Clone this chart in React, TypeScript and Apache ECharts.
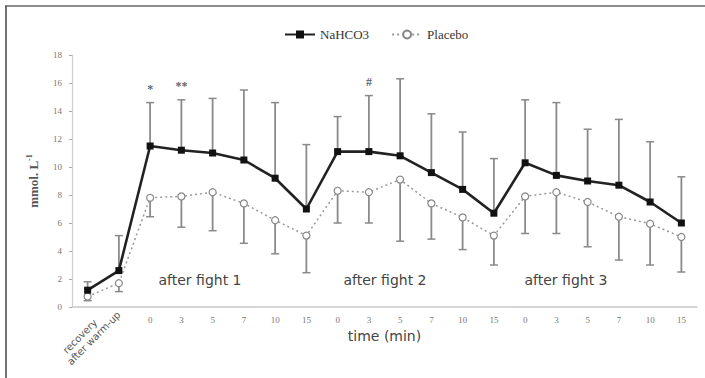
import React, { useEffect, useRef } from "react";
import * as echarts from "echarts";

const categories = ["recovery", "after warm-up", "0", "3", "5", "7", "10", "15", "0", "3", "5", "7", "10", "15", "0", "3", "5", "7", "10", "15"];
const nahMean = [1.2, 2.6, 11.5, 11.2, 11.0, 10.5, 9.2, 7.0, 11.1, 11.1, 10.8, 9.6, 8.4, 6.7, 10.3, 9.4, 9.0, 8.7, 7.5, 6.0];
const nahSD = [0.6, 2.5, 3.1, 3.6, 3.9, 5.0, 5.4, 4.6, 2.5, 4.0, 5.5, 4.2, 4.1, 3.9, 4.5, 5.2, 3.7, 4.7, 4.3, 3.3];
const plaMean = [0.75, 1.7, 7.8, 7.9, 8.2, 7.4, 6.2, 5.1, 8.3, 8.2, 9.1, 7.4, 6.4, 5.1, 7.9, 8.2, 7.5, 6.45, 5.95, 5.0];
const plaSD = [0.3, 0.6, 1.35, 2.2, 2.75, 2.85, 2.4, 2.65, 2.3, 2.2, 4.4, 2.55, 2.3, 2.1, 2.65, 2.95, 3.2, 3.1, 2.95, 2.5];
const annotations = ["", "", "*", "**", "", "", "", "", "", "#", "", "", "", "", "", "", "", "", "", ""];
const phaseLabels = ["after fight 1", "after fight 2", "after fight 3"];
const yTicks = { min: 0, max: 18, interval: 2 };

function errRender(dir: number) {
  return (params: any, api: any) => {
    const x = api.value(0);
    const m = api.value(1);
    const e = api.value(2);
    const p0 = api.coord([x, m]);
    const p1 = api.coord([x, m + dir * e]);
    const children: any[] = [
      { type: "line", shape: { x1: p0[0], y1: p0[1], x2: p1[0], y2: p1[1] }, style: { stroke: "#8a8a8a", lineWidth: 1.8 } },
      { type: "line", shape: { x1: p1[0] - 4, y1: p1[1], x2: p1[0] + 4, y2: p1[1] }, style: { stroke: "#8a8a8a", lineWidth: 1.5 } },
    ];
    const ann = annotations[x];
    if (dir > 0 && ann) {
      children.push({
        type: "text",
        style: { text: ann, x: p1[0], y: p1[1] - 14, align: "center", verticalAlign: "middle", fontFamily: "Liberation Serif", fontSize: 12, fontWeight: "bold", fill: "#666" },
      });
    }
    return { type: "group", children };
  };
}

export default function App() {
  const ref = useRef<HTMLDivElement>(null);
  useEffect(() => {
    const chart = echarts.init(ref.current!, undefined, { renderer: "svg" });
    const phaseX = [200, 385, 566];
    chart.setOption({
      animation: false,
      backgroundColor: "#ffffff",
      grid: { left: 72, right: 8, top: 55, bottom: 71 },
      legend: {
        left: 279,
        top: 23,
        itemWidth: 30,
        itemHeight: 10,
        itemGap: 22,
        textStyle: { fontFamily: "Liberation Serif", fontSize: 13, color: "#333" },
        data: ["NaHCO3", "Placebo"],
      },
      xAxis: [
        {
          type: "category",
          data: categories,
          boundaryGap: true,
          axisLine: { lineStyle: { color: "#c8c8c8", width: 1.5 } },
          axisTick: { show: false },
          axisLabel: {
            interval: 0,
            margin: 8,
            fontFamily: "Liberation Serif",
            fontSize: 9,
            color: "#777",
            formatter: (v: string, i: number) => (i < 2 ? "" : v),
          },
          name: "time (min)",
          nameLocation: "middle",
          nameGap: 19,
          nameTextStyle: { fontFamily: "DejaVu Sans", fontSize: 14, color: "#444" },
        },
        {
          type: "category",
          data: categories,
          position: "bottom",
          boundaryGap: true,
          axisLine: { show: false },
          axisTick: { show: false },
          axisLabel: {
            interval: 0,
            rotate: 45,
            margin: 6,
            fontFamily: "DejaVu Sans",
            fontSize: 10,
            color: "#555",
            formatter: (v: string, i: number) => (i === 0 ? "{r|" + v + "}" : i === 1 ? v : ""),
            rich: { r: { fontFamily: "DejaVu Sans", fontSize: 10, color: "#555", padding: [22, 0, 0, 0] } },
          },
        },
      ],
      yAxis: {
        type: "value",
        min: yTicks.min,
        max: yTicks.max,
        interval: yTicks.interval,
        splitLine: { show: false },
        axisLine: { show: true, lineStyle: { color: "#d0d0d0", width: 1.2 } },
        axisTick: { show: true, length: 3, lineStyle: { color: "#aaa" } },
        axisLabel: { fontFamily: "Liberation Serif", fontSize: 9, color: "#777", margin: 10 },
        name: "{a|mmol. L}{b|-1}",
        nameLocation: "middle",
        nameGap: 31,
        nameTextStyle: {
          rich: {
            a: { fontFamily: "Liberation Serif", fontSize: 13, fontWeight: "bold", color: "#555" },
            b: { fontFamily: "Liberation Serif", fontSize: 8, fontWeight: "bold", color: "#555", verticalAlign: "top", padding: [0, 0, 8, 0] },
          },
        },
      },
      graphic: [
        { type: "line", shape: { x1: 5, y1: 6, x2: 705, y2: 6 }, style: { stroke: "#8c8c8c", lineWidth: 2 } },
        { type: "line", shape: { x1: 6, y1: 6, x2: 6, y2: 378 }, style: { stroke: "#444", lineWidth: 1.5 } },
        ...phaseLabels.map((t, i) => ({
          type: "text",
          x: phaseX[i],
          y: 280,
          style: { text: t, align: "center", verticalAlign: "middle", fontFamily: "DejaVu Sans", fontSize: 14, fill: "#444" },
        })),
      ],
      series: [
        {
          type: "custom",
          name: "errNa",
          z: 1,
          renderItem: errRender(1),
          encode: { x: 0, y: 1 },
          data: nahMean.map((m, i) => [i, m, nahSD[i]]),
        },
        {
          type: "custom",
          name: "errPl",
          z: 1,
          renderItem: errRender(-1),
          encode: { x: 0, y: 1 },
          data: plaMean.map((m, i) => [i, m, plaSD[i]]),
        },
        {
          type: "line",
          name: "NaHCO3",
          z: 4,
          data: nahMean,
          symbol: "rect",
          symbolSize: 7,
          itemStyle: { color: "#111" },
          lineStyle: { color: "#222", width: 2.6 },
        },
        {
          type: "line",
          name: "Placebo",
          z: 3,
          data: plaMean,
          symbol: "circle",
          symbolSize: 7,
          itemStyle: { color: "#fff", borderColor: "#888", borderWidth: 1.2 },
          lineStyle: { color: "#999", width: 1.5, type: [2, 3] },
        },
      ],
    });
    return () => chart.dispose();
  }, []);
  return <div ref={ref} style={{ position: "fixed", left: 0, top: 0, width: 705, height: 378, background: "#fff" }} />;
}
